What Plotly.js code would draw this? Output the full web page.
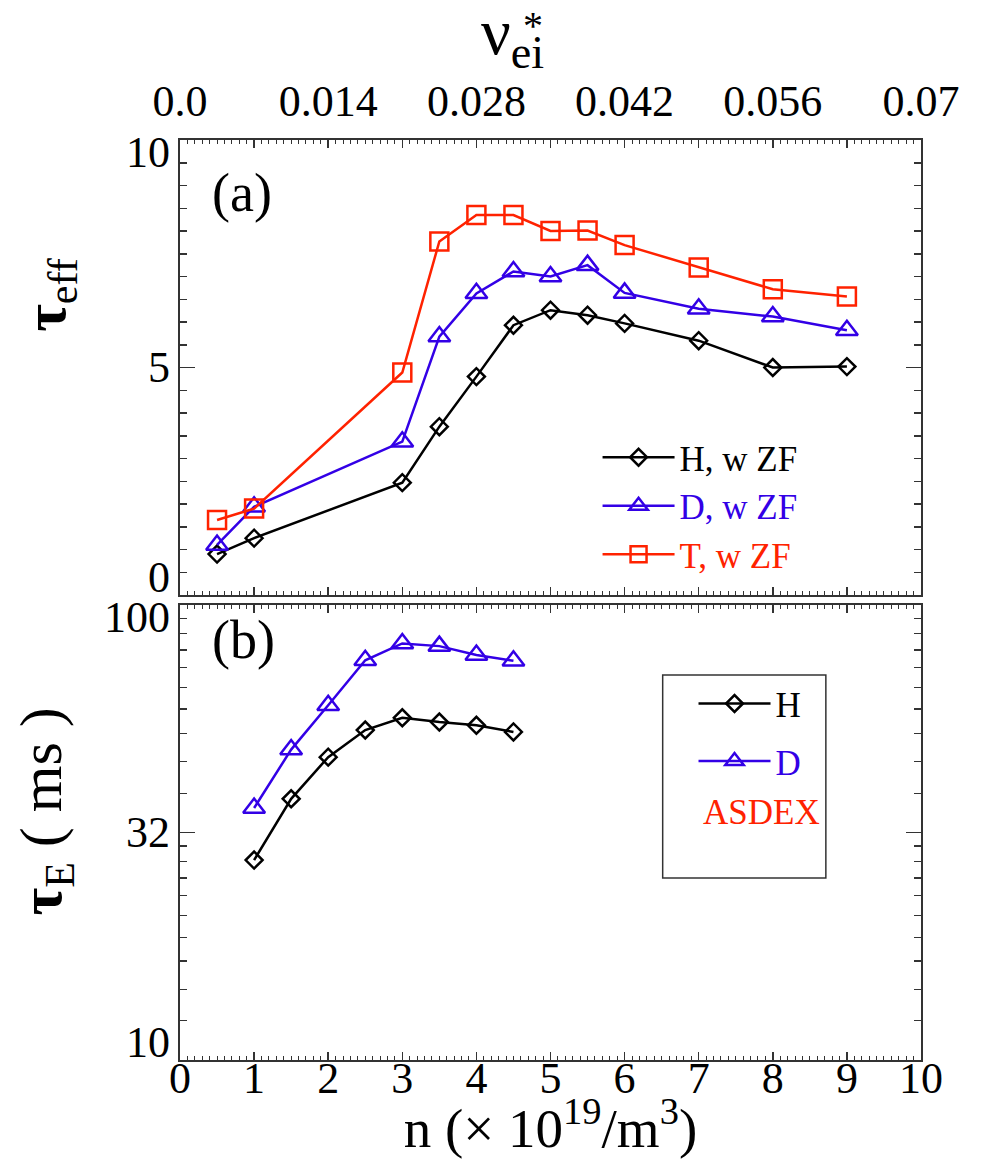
<!DOCTYPE html>
<html><head><meta charset="utf-8">
<script src="https://cdn.plot.ly/plotly-3.0.1.min.js"></script>
<style>html,body{margin:0;padding:0;background:#fff}#chart{width:986px;height:1159px}</style>
</head><body><div id="chart"></div>
<script>
// ---- data ----
const nTop = [0.5, 1, 3, 3.5, 4, 4.5, 5, 5.5, 6, 7, 8, 9];
const tauEffH = [0.9, 1.25, 2.47, 3.70, 4.80, 5.93, 6.26, 6.15, 5.97, 5.59, 5.0, 5.02];
const tauEffD = [1.1, 1.94, 3.37, 5.68, 6.63, 7.11, 7.0, 7.25, 6.64, 6.29, 6.12, 5.82];
const tauEffT = [1.65, 1.9, 4.89, 7.77, 8.35, 8.35, 8.0, 8.01, 7.69, 7.2, 6.72, 6.56];
const nBot = [1, 1.5, 2, 2.5, 3, 3.5, 4, 4.5];
const tauEH = [27.5, 37.5, 46.3, 53.1, 56.5, 55.3, 54.4, 52.6];
const tauED = [35.8, 48.1, 60.2, 75.6, 82.3, 81.2, 77.6, 75.4];
const seriesTopNames = ['H, w ZF', 'D, w ZF', 'T, w ZF'];
const seriesBotNames = ['H', 'D'];
const extraLabel = 'ASDEX';
const xTickVals = [0, 1, 2, 3, 4, 5, 6, 7, 8, 9, 10];
const nuTickVals = [0, 0.014, 0.028, 0.042, 0.056, 0.07];
const nuTickText = ['0.0', '0.014', '0.028', '0.042', '0.056', '0.07'];
const effTickVals = [0, 5, 10];
const effTickText = ['0', '5', '10'];
const tauETickVals = [10, 31.62, 100];
const tauETickText = ['10', '32', '100'];
const tauEMinorVals = [12.2, 14.3, 16.5, 18.6, 20.8, 23.0, 25.1, 27.3, 29.5,
                       38.5, 45.3, 52.2, 59.1, 65.9, 72.8, 79.6, 86.5, 93.4];

// ---- styles ----
const BLACK = '#000000', BLUE = '#3300e6', RED = '#ff2200';
const FONT = '"Liberation Serif", "Times New Roman", serif';
const FRAME = '#333333';

function colored(txt, c) { return '<span style="color:' + c + '">' + txt + '</span>'; }
function mk(symbol, size, c) { return {symbol: symbol, size: size, color: c, line: {width: 2.5, color: c}}; }

const traces = [
  {x: nTop, y: tauEffH, xaxis: 'x3', yaxis: 'y', mode: 'lines+markers', name: colored(seriesTopNames[0], BLACK),
   line: {color: BLACK, width: 2.5}, marker: mk('diamond-open', 13, BLACK), legend: 'legend'},
  {x: nTop, y: tauEffD, xaxis: 'x3', yaxis: 'y', mode: 'lines+markers', name: colored(seriesTopNames[1], BLUE),
   line: {color: BLUE, width: 2.5}, marker: mk('triangle-up-open', 19, BLUE), legend: 'legend'},
  {x: nTop, y: tauEffT, xaxis: 'x3', yaxis: 'y', mode: 'lines+markers', name: colored(seriesTopNames[2], RED),
   line: {color: RED, width: 2.5}, marker: mk('square-open', 18, RED), legend: 'legend'},
  {x: nBot, y: tauEH, xaxis: 'x', yaxis: 'y2', mode: 'lines+markers', name: colored(seriesBotNames[0], BLACK),
   line: {color: BLACK, width: 2.5}, marker: mk('diamond-open', 13, BLACK), legend: 'legend2', legendgroup: 'h'},
  {x: nBot, y: tauED, xaxis: 'x', yaxis: 'y2', mode: 'lines+markers', name: colored(seriesBotNames[1], BLUE),
   line: {color: BLUE, width: 2.5}, marker: mk('triangle-up-open', 19, BLUE), legend: 'legend2', legendgroup: 'd'},
  // carrier for the top (collisionality) axis so that it is drawn; no visible marks
  {x: nuTickVals, y: nuTickVals.map(() => null), xaxis: 'x2', yaxis: 'y', mode: 'markers', showlegend: false,
   hoverinfo: 'skip', marker: {opacity: 0}}
];

const xCommon = {
  range: [0, 10], tickmode: 'array', tickvals: xTickVals, ticks: 'inside', ticklen: 8, tickwidth: 1.5, tickcolor: FRAME,
  showline: true, linecolor: FRAME, linewidth: 2, mirror: 'ticks', showgrid: false, zeroline: false,
  tickfont: {size: 44, family: FONT, color: BLACK},
  minor: {tickmode: 'linear', tick0: 0, dtick: 0.1, ticks: 'inside', ticklen: 4, tickwidth: 1, tickcolor: FRAME, showgrid: false}
};

const annotations = [];
function yLabel(axis, yv, i, n, text) {
  const last = i === n - 1, first = i === 0;
  return {xref: 'paper', x: 0, xanchor: 'right', xshift: -8, yref: axis, y: yv,
    yanchor: last ? 'top' : (first ? 'bottom' : 'middle'),
    yshift: last ? 14 : (first ? -9 : 0),
    text: text, showarrow: false, font: {size: 44, family: FONT, color: BLACK}};
}
effTickVals.forEach((v, i) => annotations.push(yLabel('y', v, i, effTickVals.length, effTickText[i])));
tauETickVals.forEach((v, i) => annotations.push(yLabel('y2', Math.log10(v), i, tauETickVals.length, tauETickText[i])));
annotations.push(
  {xref: 'x3 domain', yref: 'y domain', x: 0.04, y: 0.884, xanchor: 'left', yanchor: 'middle', text: '(a)', showarrow: false, font: {size: 54, family: FONT, color: BLACK}},
  {xref: 'x domain', yref: 'y2 domain', x: 0.04, y: 0.923, xanchor: 'left', yanchor: 'middle', text: '(b)', showarrow: false, font: {size: 54, family: FONT, color: BLACK}},
  {xref: 'paper', yref: 'paper', x: -0.177, y: 0.8315, textangle: -90, xanchor: 'center', yanchor: 'middle',
   text: '<b>τ</b><sub>eff</sub>', showarrow: false, font: {size: 60, family: FONT, color: BLACK}},
  {xref: 'paper', yref: 'paper', x: -0.181, y: 0.27, textangle: -90, xanchor: 'center', yanchor: 'middle',
   text: '<b>τ</b><sub>E</sub> ( ms )', showarrow: false, font: {size: 60, family: FONT, color: BLACK}},
  {xref: 'paper', yref: 'paper', x: 0.449, y: 1.113, xanchor: 'center', yanchor: 'middle',
   text: 'ν<sub>ei</sub>', showarrow: false, font: {size: 66, family: FONT, color: BLACK}},
  {xref: 'paper', yref: 'paper', x: 0.477, y: 1.151, xanchor: 'center', yanchor: 'top',
   text: '*', showarrow: false, font: {size: 40, family: FONT, color: BLACK}},
  {xref: 'paper', yref: 'paper', x: 0.7027, y: 0.2685, xanchor: 'left', yanchor: 'middle',
   text: extraLabel, showarrow: false, font: {size: 35, family: FONT, color: RED}}
);

const layout = {
  width: 986, height: 1159,
  margin: {l: 180, r: 65, t: 140, b: 99},
  paper_bgcolor: '#ffffff', plot_bgcolor: '#ffffff',
  font: {family: FONT, color: BLACK},
  showlegend: true,
  xaxis: Object.assign({}, xCommon, {domain: [0, 1], anchor: 'y2', ticklabelstandoff: -22,
    title: {text: 'n (× 10<sup>19</sup>/m<sup>3</sup>)', font: {size: 55, family: FONT, color: BLACK}, standoff: 0}}),
  xaxis3: Object.assign({}, xCommon, {domain: [0, 1], anchor: 'y', showticklabels: false}),
  xaxis2: {overlaying: 'x3', anchor: 'y', side: 'top', range: [0, 0.07], tickmode: 'array', tickvals: nuTickVals, ticktext: nuTickText,
    ticks: '', showline: false, showgrid: false, zeroline: false, ticklabelstandoff: 14,
    tickfont: {size: 44, family: FONT, color: BLACK}},
  yaxis: {domain: [0.5054, 1], anchor: 'x3', range: [0, 10], tickmode: 'array', tickvals: effTickVals, ticks: 'inside', ticklen: 15,
    tickwidth: 1.5, tickcolor: FRAME, showticklabels: false, showline: true, linecolor: FRAME, linewidth: 2, mirror: 'ticks',
    showgrid: false, zeroline: false,
    minor: {tickmode: 'linear', tick0: 0, dtick: 0.5, ticks: 'inside', ticklen: 7, tickwidth: 1.5, tickcolor: FRAME, showgrid: false}},
  yaxis2: {domain: [0, 0.4946], anchor: 'x', type: 'log', range: [1, 2], tickmode: 'array', tickvals: tauETickVals, ticks: 'inside', ticklen: 15,
    tickwidth: 1.5, tickcolor: FRAME, showticklabels: false, showline: true, linecolor: FRAME, linewidth: 2, mirror: 'ticks',
    showgrid: false, zeroline: false,
    minor: {tickmode: 'array', tickvals: tauEMinorVals, ticks: 'inside', ticklen: 7, tickwidth: 1.5, tickcolor: FRAME, showgrid: false}},
  legend: {x: 0.5635, y: 0.687, xanchor: 'left', yanchor: 'top', bgcolor: 'rgba(0,0,0,0)', borderwidth: 0, itemwidth: 72,
    font: {size: 35, family: FONT, color: BLACK}, tracegroupgap: 0},
  legend2: {x: 0.693, y: 0.4193, xanchor: 'left', yanchor: 'top', bgcolor: 'rgba(0,0,0,0)', borderwidth: 0, itemwidth: 72,
    traceorder: 'grouped', tracegroupgap: 9,
    font: {size: 35, family: FONT, color: BLACK}},
  shapes: [
    {type: 'rect', xref: 'paper', yref: 'paper', x0: 0.6514, x1: 0.8716, y0: 0.1978, y1: 0.4185,
     line: {color: FRAME, width: 1.5}, fillcolor: 'rgba(0,0,0,0)'}
  ],
  annotations: annotations
};

Plotly.newPlot('chart', traces, layout, {displayModeBar: false, staticPlot: true});
</script>
</body></html>
